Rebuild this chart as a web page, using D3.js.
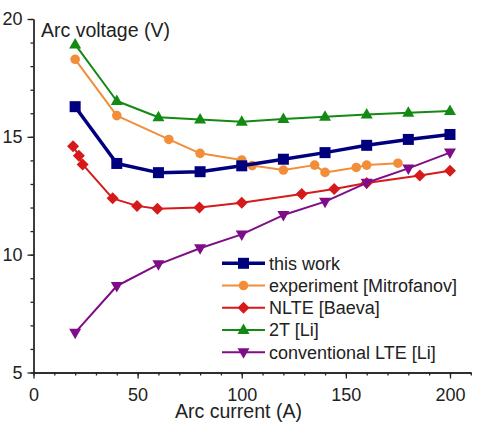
<!DOCTYPE html>
<html>
<head>
<meta charset="utf-8">
<script src="https://cdn.jsdelivr.net/npm/d3@7"></script>
<style>
  body { margin: 0; background: #fff; }
  svg { display: block; font-family: "Liberation Sans", Arial, sans-serif; }
</style>
</head>
<body>
<svg id="chart" width="478" height="422"></svg>
<script>
// data (current in A, voltage in V)
const thisWork = [[20,16.28],[40,13.87],[60,13.48],[80,13.52],[100,13.77],[120,14.05],[140,14.33],[160,14.64],[180,14.89],[200,15.1]];
const experiment = [[20,18.29],[40,15.9],[65,14.89],[80,14.3],[100,14.02],[105,13.78],[120,13.59],[135,13.8],[140,13.49],[155,13.7],[160,13.8],[175,13.88]];
const nlte = [[19,14.6],[21.8,14.2],[23.6,13.83],[38,12.39],[49.7,12.07],[59.5,11.95],[79.7,12.0],[100,12.2],[128.8,12.57],[144.4,12.79],[160,13.04],[185.5,13.36],[200,13.56]];
const twoT = [[20,18.92],[40,16.52],[60,15.83],[80,15.74],[100,15.64],[120,15.76],[140,15.85],[160,15.95],[180,16.02],[200,16.1]];
const lte = [[20,6.69],[40,8.67],[60,9.59],[80,10.27],[100,10.86],[120,11.68],[140,12.25],[160,13.05],[180,13.66],[200,14.33]];

const xTicks = [0, 50, 100, 150, 200];
const yTicks = [5, 10, 15, 20];

const series = [
  {name: "this work", data: thisWork, color: "#00007f", shape: "square", lw: 3.5},
  {name: "experiment [Mitrofanov]", data: experiment, color: "#f28e3a", shape: "circle", lw: 2},
  {name: "NLTE [Baeva]", data: nlte, color: "#d61a1a", shape: "diamond", lw: 2},
  {name: "2T [Li]", data: twoT, color: "#138a13", shape: "triangle", lw: 2},
  {name: "conventional LTE [Li]", data: lte, color: "#800d88", shape: "down", lw: 2}
];
// which one goes on top
const drawOrder = [3, 1, 2, 4, 0];

const svg = d3.select("#chart");
const x = d3.scaleLinear().domain([0, 210]).range([33.5, 470.8]);
const y = d3.scaleLinear().domain([5, 20]).range([372.5, 19]);

function marker(g, shape, color) {
  if (shape === "square") {
    g.append("rect").attr("x", -5.5).attr("y", -5.5).attr("width", 11).attr("height", 11).attr("fill", color);
  } else if (shape === "circle") {
    g.append("circle").attr("r", 4.8).attr("fill", color);
  } else if (shape === "diamond") {
    g.append("path").attr("d", "M0,-6L6,0L0,6L-6,0Z").attr("fill", color);
  } else if (shape === "triangle") {
    g.append("path").attr("d", "M0,-6.5L6,4L-6,4Z").attr("fill", color);
  } else {
    g.append("path").attr("d", "M0,6.5L6,-4L-6,-4Z").attr("fill", color);
  }
}

// axes
const xAxisG = svg.append("g").attr("transform", `translate(0,${y(5)})`);
xAxisG.call(d3.axisBottom(x).tickValues(d3.range(0, 211, 10)).tickSize(3).tickSizeOuter(0).tickFormat(""));
xAxisG.append("g").call(d3.axisBottom(x).tickValues(xTicks).tickSize(6).tickPadding(10).tickSizeOuter(0));
const yAxisG = svg.append("g").attr("transform", `translate(${x(0)},0)`);
yAxisG.call(d3.axisLeft(y).tickValues(d3.range(5, 20.1, 1)).tickSize(3).tickSizeOuter(0).tickFormat(""));
yAxisG.append("g").call(d3.axisLeft(y).tickValues(yTicks).tickSize(6).tickPadding(5).tickSizeOuter(0));
svg.selectAll(".domain, .tick line").attr("stroke", "#222").attr("stroke-width", 1.3);
svg.selectAll(".tick text").attr("font-size", 18).attr("fill", "#222").attr("font-family", "Liberation Sans, Arial, sans-serif");

svg.append("text").attr("x", 41).attr("y", 37).attr("font-size", 19.5).attr("fill", "#222").text("Arc voltage (V)");
svg.append("text").attr("x", 238.5).attr("y", 417.5).attr("text-anchor", "middle").attr("font-size", 19.5).attr("fill", "#222").text("Arc current (A)");

const line = d3.line().x(d => x(d[0])).y(d => y(d[1]));

drawOrder.forEach(i => {
  const s = series[i];
  const g = svg.append("g");
  g.append("path").attr("d", line(s.data)).attr("fill", "none").attr("stroke", s.color).attr("stroke-width", s.lw).attr("stroke-linejoin", "round");
  g.selectAll("g.pt").data(s.data).join("g").attr("class", "pt")
    .attr("transform", d => `translate(${x(d[0])},${y(d[1])})`)
    .each(function() { marker(d3.select(this), s.shape, s.color); });
});

// legend
const legend = svg.append("g");
series.forEach((s, i) => {
  const ly = 263.3 + i * 22.25;
  const row = legend.append("g").attr("transform", `translate(0,${ly})`);
  row.append("line").attr("x1", 222).attr("x2", 265).attr("stroke", s.color).attr("stroke-width", s.lw);
  const m = row.append("g").attr("transform", "translate(243.5,0)");
  marker(m, s.shape, s.color);
  row.append("text").attr("x", 269).attr("dy", "0.35em").attr("font-size", 18).attr("fill", "#222").text(s.name);
});
</script>
</body>
</html>
